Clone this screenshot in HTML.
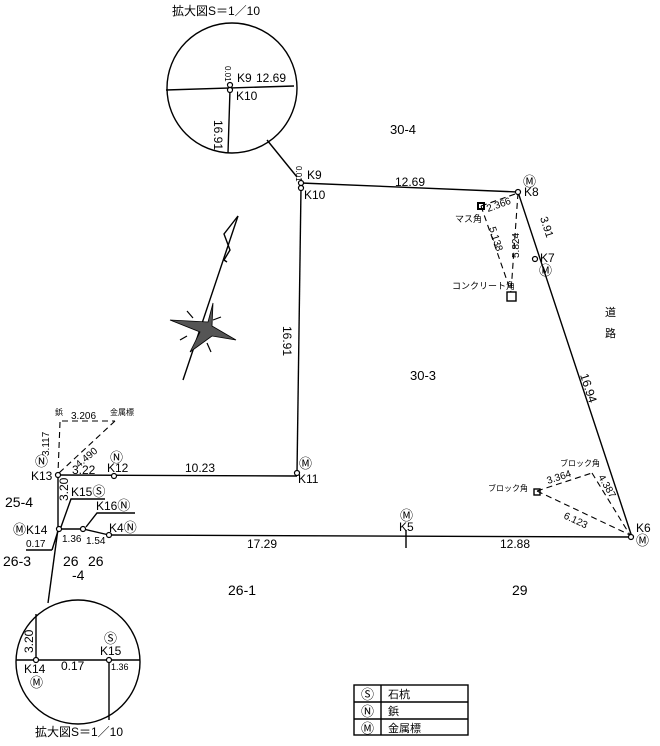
<!DOCTYPE html>
<html><head><meta charset="utf-8"><style>
html,body{margin:0;padding:0;background:#fff;}
svg{display:block;}
text{font-family:"Liberation Sans","Noto Sans CJK JP",sans-serif;fill:#000;}
.m{font-size:13px;}
</style></head><body>
<svg width="660" height="746" viewBox="0 0 660 746" xmlns="http://www.w3.org/2000/svg">
<g stroke="#000" fill="none" stroke-width="1.4">
<polyline points="301,183 518,192 632,537 109,535"/>
<line x1="301" y1="188" x2="297" y2="473"/>
<line x1="58" y1="475" x2="297" y2="476"/>
<line x1="58" y1="475" x2="58" y2="529"/>
<polyline points="59,529 83,529 109,535"/>
<line x1="406" y1="530" x2="406" y2="548"/>
<line x1="58" y1="529" x2="48" y2="603"/>
<polyline points="105,499 71,499 61,527"/>
<polyline points="135,513 97,513 86,527"/>
<line x1="26" y1="550" x2="52" y2="550"/>
<line x1="52" y1="550" x2="58" y2="531"/>
<line x1="267" y1="140" x2="297" y2="177"/>
<circle cx="232" cy="88" r="65"/>
<line x1="166" y1="90" x2="294" y2="86"/>
<line x1="230" y1="90" x2="228" y2="153"/>
<circle cx="78" cy="662" r="62"/>
<line x1="16" y1="660" x2="140" y2="660"/>
<line x1="36" y1="614" x2="36" y2="660"/>
<line x1="109" y1="660" x2="109" y2="720"/>
<line x1="238" y1="216" x2="183" y2="380"/>
<polyline points="238,216 224,234 230,250 224,260 227,262"/>
<g stroke-dasharray="6,4" stroke-width="1.1">
<line x1="481" y1="206" x2="518" y2="193"/>
<line x1="481" y1="206" x2="511" y2="292"/>
<line x1="518" y1="193" x2="511" y2="292"/>
<line x1="60" y1="422" x2="58" y2="473"/>
<line x1="62" y1="421" x2="115" y2="421"/>
<line x1="115" y1="421" x2="59" y2="473"/>
<line x1="537" y1="491" x2="592" y2="473"/>
<line x1="592" y1="473" x2="630" y2="535"/>
<line x1="537" y1="491" x2="630" y2="535"/>
</g>
<rect x="507" y="292" width="9" height="9"/>
<rect x="478" y="203" width="6" height="6" stroke-width="2"/>
<rect x="534" y="489" width="6" height="6"/>
<rect x="354" y="685" width="114" height="50"/>
<line x1="381" y1="685" x2="381" y2="735"/>
<line x1="354" y1="702" x2="468" y2="702"/>
<line x1="354" y1="719" x2="468" y2="719"/>
</g>
<polygon fill="#555" stroke="#000" stroke-width="0.8" points="213,303 208,322 170,320 200,332 190,352 212,336 236,340 212,326"/>
<g stroke="#000" stroke-width="1.2">
<line x1="187" y1="311" x2="193" y2="318"/><line x1="213" y1="320" x2="221" y2="317"/>
<line x1="180" y1="340" x2="187" y2="336"/><line x1="207" y1="343" x2="211" y2="352"/>
</g>
<g fill="#fff" stroke="#000" stroke-width="1.2">
<circle cx="301" cy="183" r="2.5"/><circle cx="301" cy="188" r="2.5"/>
<circle cx="518" cy="192" r="2.5"/><circle cx="535" cy="259" r="2.5"/>
<circle cx="631" cy="537" r="2.5"/><circle cx="297" cy="473" r="2.5"/>
<circle cx="114" cy="476" r="2.5"/><circle cx="58" cy="475" r="2.5"/>
<circle cx="59" cy="529" r="2.5"/><circle cx="83" cy="529" r="2.5"/>
<circle cx="109" cy="535" r="2.5"/><circle cx="230" cy="85" r="2.5"/><circle cx="230" cy="90" r="2.5"/>
<circle cx="36" cy="660" r="2.5"/><circle cx="109" cy="660" r="2.5"/>
</g>
<g font-size="12">
<text x="172" y="15" font-size="12">拡大図S＝1／10</text>
<text x="237" y="82">K9</text><text x="256" y="82" font-size="12">12.69</text>
<text x="236" y="100">K10</text>
<text x="225" y="66" font-size="8" transform="rotate(90 225 66)">0.01</text>
<text x="214" y="120" transform="rotate(90 214 120)">16.91</text>
<text x="390" y="134" font-size="13">30-4</text>
<text x="307" y="179">K9</text><text x="304" y="199">K10</text>
<text x="296" y="166" font-size="8" transform="rotate(90 296 166)">0.01</text>
<text x="395" y="186">12.69</text>
<text x="524" y="196">K8</text><text class="m" x="523" y="186">Ⓜ</text>
<text x="540" y="262">K7</text><text class="m" x="539" y="275">Ⓜ</text>
<text x="488" y="212" font-size="10" transform="rotate(-20 488 212)">2.366</text>
<text x="455" y="222" font-size="9">マス角</text>
<text x="452" y="289" font-size="9">コンクリート角</text>
<text x="489" y="228" font-size="10" transform="rotate(72 489 228)">5.138</text>
<text x="519" y="258" font-size="10" transform="rotate(-90 519 258)">5.824</text>
<text x="540" y="218" font-size="11" transform="rotate(72 540 218)">3.91</text>
<text x="605" y="316" font-size="11">道</text><text x="605" y="337" font-size="11">路</text>
<text x="410" y="380" font-size="13">30-3</text>
<text x="580" y="375" transform="rotate(72 580 375)">16.94</text>
<text x="283" y="326" transform="rotate(90 283 326)">16.91</text>
<text x="560" y="466" font-size="8">ブロック角</text>
<text x="488" y="491" font-size="8">ブロック角</text>
<text x="548" y="484" font-size="10" transform="rotate(-18 548 484)">3.364</text>
<text x="598" y="477" font-size="10" transform="rotate(60 598 477)">4.387</text>
<text x="563" y="518" font-size="10" transform="rotate(25 563 518)">6.123</text>
<text x="636" y="532">K6</text><text class="m" x="636" y="545">Ⓜ</text>
<text x="55" y="415" font-size="8">鋲</text><text x="110" y="415" font-size="8">金属標</text>
<text x="71" y="419" font-size="10">3.206</text>
<text x="49" y="456" font-size="10" transform="rotate(-90 49 456)">3.117</text>
<text x="79" y="468" font-size="10" transform="rotate(-40 79 468)">4.490</text>
<text class="m" x="35" y="466">Ⓝ</text><text class="m" x="110" y="462">Ⓝ</text>
<text x="31" y="480">K13</text><text x="72" y="474">3.22</text><text x="107" y="472">K12</text>
<text x="185" y="472">10.23</text>
<text class="m" x="299" y="468">Ⓜ</text><text x="298" y="483">K11</text>
<text x="71" y="496">K15<tspan class="m">Ⓢ</tspan></text><text x="96" y="510">K16<tspan class="m">Ⓝ</tspan></text>
<text x="109" y="532">K4<tspan class="m">Ⓝ</tspan></text>
<text x="5" y="507" font-size="14">25-4</text>
<text x="68" y="501" transform="rotate(-90 68 501)">3.20</text>
<text x="13" y="534"><tspan class="m">Ⓜ</tspan>K14</text>
<text x="26" y="547" font-size="10">0.17</text>
<text x="62" y="542" font-size="10">1.36</text><text x="86" y="544" font-size="10">1.54</text>
<text class="m" x="400" y="520">Ⓜ</text><text x="399" y="531">K5</text>
<text x="247" y="548">17.29</text><text x="500" y="548">12.88</text>
<text x="3" y="566" font-size="14">26-3</text>
<text x="63" y="566" font-size="14">26</text><text x="88" y="566" font-size="14">26</text>
<text x="72" y="580" font-size="14">-4</text>
<text x="228" y="595" font-size="14">26-1</text>
<text x="512" y="595" font-size="14">29</text>
<text x="33" y="653" transform="rotate(-90 33 653)">3.20</text>
<text class="m" x="104" y="643">Ⓢ</text><text x="100" y="655">K15</text>
<text x="24" y="673">K14</text><text class="m" x="30" y="687">Ⓜ</text>
<text x="61" y="670">0.17</text><text x="111" y="670" font-size="9">1.36</text>
<text x="35" y="736" font-size="12">拡大図S＝1／10</text>
<text class="m" x="361" y="699">Ⓢ</text><text x="388" y="698" font-size="11">石杭</text>
<text class="m" x="361" y="716">Ⓝ</text><text x="388" y="715" font-size="11">鋲</text>
<text class="m" x="361" y="733">Ⓜ</text><text x="388" y="732" font-size="11">金属標</text>
</g>
</svg>
</body></html>
